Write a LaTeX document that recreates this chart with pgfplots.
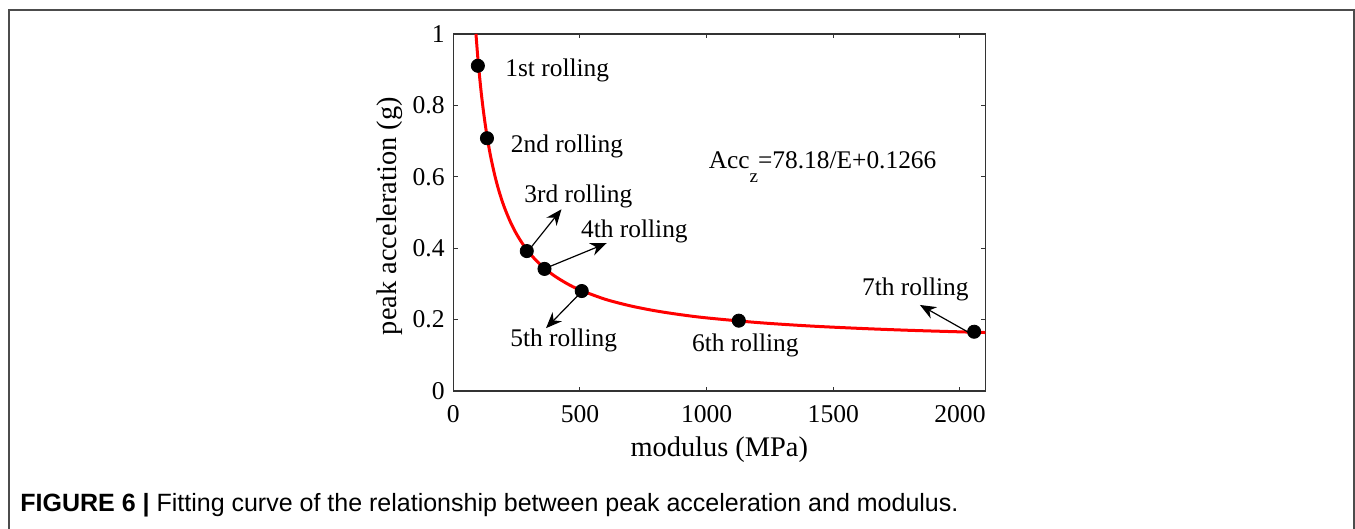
\documentclass[border=0pt]{standalone}
\usepackage{fontspec}
\setmainfont{Liberation Serif}
\newfontfamily\capfont{Liberation Sans}
\usepackage{pgfplots}
\pgfplotsset{compat=1.18}
\usetikzlibrary{arrows.meta}
\begin{document}
\begin{tikzpicture}
\begin{axis}[
  at={(0,0)}, anchor=south west,
  scale only axis, width=266pt, height=178.5pt,
  xmin=0, xmax=2100, ymin=0, ymax=1,
  xtick={0,500,1000,1500,2000}, ytick={0,0.2,0.4,0.6,0.8,1},
  tick align=inside, major tick length=2.2pt,
  axis line style={draw=black!80, line width=0.65pt},
  every tick/.style={draw=black!80, line width=0.5pt},
  /pgf/number format/assume math mode=true,
  /pgf/number format/set thousands separator={},
  tick label style={font=\fontsize{12.8}{15}\selectfont},
  xticklabel style={yshift=-3.5pt},
  yticklabel style={xshift=-0.8pt},
  scaled ticks=false,
  every axis x label/.style={at={(axis description cs:0.5,0)}, anchor=center, yshift=-29.5pt},
  every axis y label/.style={at={(axis description cs:0,0.49)}, anchor=center, rotate=90, yshift=32pt},
  label style={font=\fontsize{14.2}{16}\selectfont},
  xlabel={modulus (MPa)},
  ylabel={peak acceleration (g)},
  clip=true,
]
\addplot[red, line width=1.5pt, smooth] coordinates {
(89.5,1.0) (95,0.9495) (100,0.9084) (110,0.8373) (120,0.7781) (130,0.7280)
(140,0.6850) (150,0.6478) (165,0.6004) (180,0.5609) (200,0.5175) (225,0.4741)
(250,0.4393) (280,0.4058) (320,0.3709) (360,0.3438) (400,0.3221) (450,0.3003)
(500,0.2830) (600,0.2569) (700,0.2383) (800,0.2243) (900,0.2135) (1000,0.2048)
(1200,0.1918) (1400,0.1824) (1600,0.1755) (1800,0.1700) (2000,0.1657) (2100,0.1638)};
\addplot[only marks, mark=*, mark size=3.3pt, black] coordinates {
(97,0.911) (133,0.708) (290,0.392) (360,0.342) (507,0.280) (1127,0.197) (2056,0.166)};
\begin{scope}[-{Stealth[length=8pt,width=6.5pt]}, line width=0.6pt]
\draw (axis cs:302,0.398) -- (axis cs:427,0.509);
\draw (axis cs:375,0.347) -- (axis cs:605,0.414);
\draw (axis cs:494,0.269) -- (axis cs:366,0.176);
\draw (axis cs:2037,0.163) -- (axis cs:1842,0.241);
\end{scope}
\begin{scope}[every node/.style={anchor=west, inner sep=0pt, font=\fontsize{12.7}{15}\selectfont}]
\node at (axis cs:204,0.899) {1st rolling};
\node at (axis cs:226,0.686) {2nd rolling};
\node at (axis cs:279,0.544) {3rd rolling};
\node at (axis cs:503,0.446) {4th rolling};
\node at (axis cs:224,0.143) {5th rolling};
\node at (axis cs:941,0.129) {6th rolling};
\node at (axis cs:1612,0.285) {7th rolling};
\node at (axis cs:1007,0.628) {Acc\raisebox{-0.55em}{\fontsize{9.5}{10}\selectfont z}=78.18/E+0.1266};
\end{scope}
\end{axis}
\draw[black!70, line width=0.65pt] (-222.15pt,-70pt) -- (-222.15pt,190.5pt) -- (450.35pt,190.5pt) -- (450.35pt,-70pt);
\node[anchor=west, inner sep=0pt, font=\capfont\fontsize{12.5}{14}\selectfont] at (-216.65pt,-57pt) {\textbf{FIGURE 6 |} Fitting curve of the relationship between peak acceleration and modulus.};
\pgfresetboundingbox
\useasboundingbox (-226.65pt,-69pt) rectangle (450.85pt,195.5pt);
\end{tikzpicture}
\end{document}
